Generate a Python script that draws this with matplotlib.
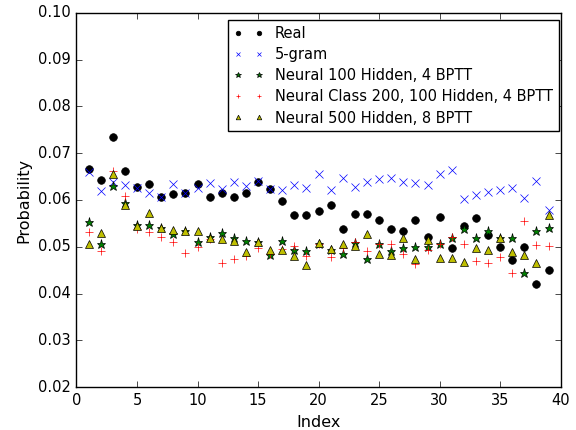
import matplotlib
matplotlib.use("Agg")
import matplotlib.pyplot as plt
import numpy as np

plt.style.use('classic')

index = list(range(1, 40))
real = [0.0666, 0.0642, 0.0734, 0.0662, 0.0627, 0.0634, 0.0606, 0.0613, 0.0614, 0.0634,
        0.0607, 0.0614, 0.0606, 0.0615, 0.0639, 0.0623, 0.0598, 0.0568, 0.0568, 0.0577,
        0.0589, 0.0539, 0.0570, 0.0570, 0.0557, 0.0538, 0.0534, 0.0557, 0.0521, 0.0563,
        0.0497, 0.0544, 0.0561, 0.0526, 0.0500, 0.0472, 0.0499, 0.0420, 0.0450]
gram5 = [0.0659, 0.0619, 0.0638, 0.0633, 0.0626, 0.0615, 0.0607, 0.0634, 0.0614, 0.0626,
         0.0637, 0.0624, 0.0638, 0.0630, 0.0641, 0.0623, 0.0621, 0.0633, 0.0625, 0.0655,
         0.0621, 0.0647, 0.0627, 0.0638, 0.0645, 0.0647, 0.0639, 0.0637, 0.0633, 0.0655,
         0.0665, 0.0603, 0.0610, 0.0617, 0.0621, 0.0625, 0.0605, 0.0640, 0.0578]
neural100 = [0.0554, 0.0507, 0.0629, 0.0594, 0.0546, 0.0547, 0.0541, 0.0527, 0.0533, 0.0511,
             0.0521, 0.0529, 0.0519, 0.0513, 0.0511, 0.0482, 0.0512, 0.0493, 0.0491, 0.0507,
             0.0494, 0.0485, 0.0508, 0.0473, 0.0505, 0.0491, 0.0497, 0.0499, 0.0499, 0.0505,
             0.0519, 0.0538, 0.0519, 0.0534, 0.0519, 0.0519, 0.0444, 0.0534, 0.0540]
class200 = [0.0531, 0.0491, 0.0662, 0.0608, 0.0537, 0.0532, 0.0520, 0.0510, 0.0486, 0.0499,
            0.0516, 0.0466, 0.0474, 0.0481, 0.0497, 0.0485, 0.0495, 0.0502, 0.0480, 0.0506,
            0.0479, 0.0498, 0.0510, 0.0491, 0.0505, 0.0505, 0.0484, 0.0463, 0.0493, 0.0506,
            0.0520, 0.0506, 0.0470, 0.0465, 0.0479, 0.0445, 0.0555, 0.0504, 0.0501]
neural500 = [0.0507, 0.0530, 0.0655, 0.0589, 0.0544, 0.0573, 0.0541, 0.0535, 0.0534, 0.0534,
             0.0518, 0.0517, 0.0512, 0.0488, 0.0511, 0.0494, 0.0493, 0.0480, 0.0462, 0.0509,
             0.0495, 0.0507, 0.0501, 0.0527, 0.0484, 0.0482, 0.0518, 0.0473, 0.0514, 0.0477,
             0.0477, 0.0468, 0.0498, 0.0493, 0.0519, 0.0489, 0.0482, 0.0465, 0.0568]
labels = ["Real", "5-gram", "Neural 100 Hidden, 4 BPTT",
          "Neural Class 200, 100 Hidden, 4 BPTT", "Neural 500 Hidden, 8 BPTT"]

fig = plt.figure(figsize=(5.76, 4.30), dpi=100, facecolor='white')
ax = fig.add_axes([0.1328, 0.0993, 0.8406, 0.8712])
ax.set_facecolor('white')

ms = 5.5
ax.plot(index, real, 'ko', markersize=ms, label=labels[0])
ax.plot(index, gram5, 'bx', markersize=ms, label=labels[1])
ax.plot(index, neural100, 'g*', markersize=ms + 1, label=labels[2])
ax.plot(index, class200, 'r+', markersize=ms, label=labels[3])
ax.plot(index, neural500, 'y^', markersize=ms, label=labels[4])

ax.set_xlim(0, 40)
ax.set_ylim(0.02, 0.10)
ax.set_xticks(np.arange(0, 41, 5))
ax.set_yticks(np.arange(0.02, 0.1001, 0.01))
ax.set_yticklabels(["%.2f" % v for v in np.arange(0.02, 0.1001, 0.01)])
ax.tick_params(labelsize=10.5)
ax.set_xlabel("Index", fontsize=11.5)
ax.set_ylabel("Probability", fontsize=11.5)

leg = ax.legend(loc='upper left', bbox_to_anchor=(0.313, 0.98), numpoints=2,
                fontsize=10.5, markerscale=0.6, frameon=True, fancybox=False,
                borderaxespad=0.0, labelspacing=0.42)
leg.get_frame().set_edgecolor('black')

fig.savefig("out.png", dpi=100, facecolor='white')
